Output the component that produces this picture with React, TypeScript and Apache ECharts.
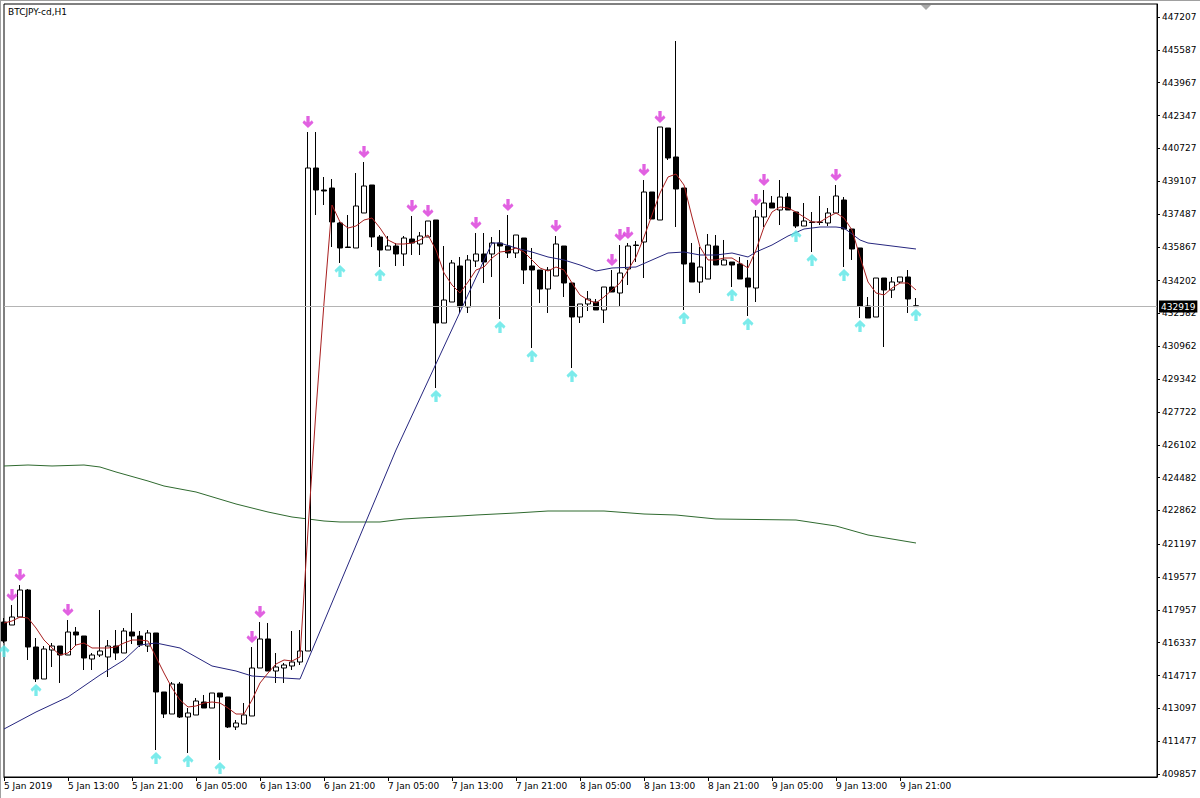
import React, { useEffect, useRef } from 'react';
import * as echarts from 'echarts';

const FONT = 'DejaVu Sans';

// Hourly candles, 5 Jan 2019 05:00 .. 9 Jan 2019 23:00 (bar index 0..114)
const opens = [
  417357, 417208, 417603, 418935, 416123, 414544, 415975, 416172, 415728, 416863,
  416666, 415531, 415728, 415630, 416172, 415827, 416863, 416666, 416172, 416814,
  413903, 412817, 414297, 412669, 412768, 413409, 413113, 413853, 413656, 412176,
  412324, 412719, 415087, 416518, 414939, 415087, 415186, 415383, 415926, 439757,
  438671, 438770, 437043, 435859, 435810, 437537, 438918, 436352, 435711, 435908,
  435514, 436254, 436007, 436352, 437191, 432109, 433145, 434922, 432899, 435168,
  435514, 435514, 436056, 435908, 435563, 436303, 434922, 434724, 433787, 434428,
  435908, 434083, 432405, 433047, 433145, 432751, 433885, 433589, 434774, 435958,
  436106, 438573, 437191, 441730, 440300, 438770, 435070, 434132, 434280, 435908,
  434971, 435119, 435020, 434329, 433836, 437339, 438030, 437685, 438326, 437586,
  436895, 437093, 437093, 437043, 437537, 438178, 436747, 435810, 432948, 432405,
  434329, 433737, 434132, 434379, 432960,
];
const highs = [
  417554, 418195, 419182, 418985, 416567, 416172, 416320, 416172, 417455, 417110,
  416666, 415827, 417949, 416468, 416962, 417060, 417801, 416912, 416962, 416814,
  413903, 414396, 414396, 413113, 413607, 413755, 413853, 413853, 413656, 412521,
  413360, 416123, 417357, 417307, 415827, 415334, 416912, 416962, 441533, 441533,
  439313, 439214, 437093, 437438, 439510, 440053, 438918, 436451, 436402, 436056,
  436402, 437389, 436599, 437142, 437191, 435908, 435218, 435366, 435464, 436550,
  436550, 436352, 436698, 437438, 436451, 436303, 435810, 434724, 434872, 436402,
  435908, 434083, 433047, 433688, 433293, 433885, 434724, 435958, 436056, 436155,
  439165, 438573, 441780, 441730, 446023, 438770, 436056, 435859, 436500, 436451,
  436205, 435119, 435366, 435218, 437685, 438671, 438375, 439165, 438523, 437586,
  438030, 437586, 438375, 437783, 438918, 438326, 436747, 435810, 433392, 434329,
  434329, 434379, 434379, 434724, 433343,
];
const lows = [
  416320, 417208, 417603, 415482, 414396, 414544, 415136, 414347, 415728, 416172,
  414988, 414988, 415630, 414643, 415482, 415827, 416271, 416123, 415876, 411041,
  412620, 412817, 412620, 410893, 412768, 413113, 413113, 410548, 412126, 412028,
  412324, 412719, 415087, 414939, 414347, 414347, 414988, 415235, 415926, 437438,
  437931, 435859, 435070, 435810, 435810, 437537, 435859, 434872, 435711, 434922,
  434922, 435464, 435464, 436352, 428902, 432109, 433145, 432603, 432603, 434872,
  434083, 434379, 432307, 435316, 435316, 434033, 430876, 433096, 432603, 434428,
  433392, 429889, 432109, 432701, 432751, 432109, 433639, 432899, 433984, 435119,
  434329, 437241, 437191, 440152, 436846, 432751, 434132, 433589, 434280, 434971,
  434971, 433885, 434280, 432455, 433145, 436846, 437783, 436944, 437685, 436796,
  436895, 435612, 436944, 436895, 437537, 434872, 435218, 432356, 432356, 432405,
  430925, 433343, 434083, 432603, 432899,
];
const closes = [
  416419, 417603, 418935, 416123, 414544, 416024, 416172, 415728, 416863, 416715,
  415580, 415728, 415926, 416172, 415827, 416912, 416666, 416222, 416814, 413903,
  412817, 414297, 412669, 412867, 413459, 413113, 413853, 413656, 412176, 412373,
  412768, 415087, 416518, 414939, 415136, 415235, 415383, 415926, 439757, 438671,
  438622, 437093, 435810, 435834, 437882, 438869, 436352, 435711, 435908, 435514,
  436303, 436056, 436402, 437142, 432109, 433244, 435070, 432899, 435218, 435514,
  435119, 436056, 435908, 435563, 436451, 434724, 434724, 433787, 434724, 436007,
  434083, 432405, 433047, 433293, 432751, 433885, 433639, 434576, 435908, 435933,
  438573, 437241, 441780, 440250, 438721, 435020, 434132, 434872, 435958, 434971,
  435218, 434971, 434280, 433885, 437339, 438030, 437783, 438326, 437685, 436895,
  437142, 437068, 437068, 437537, 438375, 436747, 435760, 432948, 432356, 434329,
  433737, 434132, 434379, 433293, 432919,
];

// Fast moving average (red), one value per bar
const fastMA = [
  417307, 417406, 417603, 417554, 417060, 416468, 416074, 415728, 415827, 416222,
  416320, 416074, 416074, 416074, 416123, 416320, 416468, 416468, 416419, 415630,
  414840, 414100, 413508, 413163, 413212, 413360, 413409, 413360, 413113, 412817,
  412817, 413508, 414347, 414840, 415284, 415482, 415433, 415630, 421896, 427817,
  433096, 437931, 437093, 436796, 436895, 437191, 437290, 436796, 436205, 436007,
  436007, 436056, 436205, 436451, 435711, 434576, 433984, 433589, 434132, 434724,
  434872, 435316, 435612, 435662, 435810, 435612, 435218, 434823, 434675, 434872,
  434724, 434083, 433491, 433244, 433096, 433392, 433737, 434083, 434724, 435366,
  436352, 437438, 438523, 439313, 439460, 438918, 437339, 435859, 435218, 435218,
  435316, 435316, 435070, 434823, 435711, 436846, 437586, 437833, 437783, 437586,
  437339, 437093, 437093, 437339, 437537, 437290, 436698, 435366, 434132, 433589,
  433491, 433836, 434083, 434083, 433737,
];

// Medium moving average (navy), [bar, value] readings
const midMA = [
  [0, 412077], [4, 412916], [8, 413656], [12, 414741], [15, 415482], [17, 416222],
  [19, 416320], [22, 416074], [26, 415186], [29, 414939], [31, 414692], [37, 414544],
  [49, 425843], [61, 436056], [62, 436056], [64, 435810], [66, 435612], [68, 435366],
  [70, 435218], [72, 434971], [74, 434675], [76, 434823], [79, 434872], [81, 435218],
  [83, 435563], [85, 435612], [87, 435464], [89, 435464], [91, 435563], [93, 435366],
  [94, 435612], [96, 435958], [98, 436402], [100, 436747], [102, 436846], [104, 436846],
  [105, 436796], [107, 436205], [108, 436056], [110, 435958], [112, 435859], [114, 435760],
];

// Slow moving average (green), [bar, value] readings
const slowMA = [
  [0, 425054], [3, 425103], [6, 425054], [10, 425103], [12, 425004], [14, 424758],
  [18, 424313], [20, 424067], [24, 423771], [29, 423179], [33, 422784], [36, 422537],
  [38, 422439], [40, 422340], [42, 422291], [47, 422291], [50, 422439], [52, 422488],
  [57, 422587], [59, 422636], [64, 422735], [68, 422833], [75, 422833], [80, 422685],
  [84, 422636], [89, 422439], [99, 422389], [104, 422093], [108, 421649], [114, 421254],
];

// Signal arrows (bar indices)
const downArrowBars = [1, 2, 8, 31, 32, 38, 45, 51, 53, 59, 63, 69, 76, 77, 78, 80, 82, 94, 95, 104];
const upArrowBars = [0, 4, 19, 23, 27, 42, 47, 54, 62, 66, 71, 85, 91, 93, 99, 101, 105, 107, 114];

// Axis tick labels
const timeTickBars = [0, 8, 16, 24, 32, 40, 48, 56, 64, 72, 80, 88, 96, 104, 112];
const timeLabels = [
  '5 Jan 2019', '5 Jan 13:00', '5 Jan 21:00', '6 Jan 05:00', '6 Jan 13:00',
  '6 Jan 21:00', '7 Jan 05:00', '7 Jan 13:00', '7 Jan 21:00', '8 Jan 05:00',
  '8 Jan 13:00', '8 Jan 21:00', '9 Jan 05:00', '9 Jan 13:00', '9 Jan 21:00',
];
const priceTicks = [
  447207, 445587, 443967, 442347, 440727, 439107, 437487, 435867, 434202, 432582,
  430962, 429342, 427722, 426102, 424482, 422862, 421197, 419577, 417957, 416337,
  414717, 413097, 411477, 409857,
];
const lastPrice = 432919;
const title = 'BTCJPY-cd,H1';

const DOWN_ARROW = 'path://M3.5,0 L6.5,0 L6.5,6 L8.5,4 L10,6.5 L5,11.5 L0,6.5 L1.5,4 L3.5,6 Z';
const UP_ARROW = 'path://M3.5,11.5 L6.5,11.5 L6.5,5.5 L8.5,7.5 L10,5 L5,0 L0,5 L1.5,7.5 L3.5,5.5 Z';

export default function App() {
  const ref = useRef<HTMLDivElement>(null);

  useEffect(() => {
    if (!ref.current) return;
    const chart = echarts.init(ref.current, null, { renderer: 'svg' });
    const candleData = opens.map((o, i) => [i, o, closes[i], lows[i], highs[i]]);

    chart.setOption({
      animation: false,
      backgroundColor: '#ffffff',
      textStyle: { fontFamily: FONT },
      grid: {
        left: 4,
        right: 43,
        top: 4,
        bottom: 21,
        show: true,
        borderColor: '#000',
        borderWidth: 1,
        backgroundColor: 'transparent',
      },
      xAxis: {
        type: 'value',
        min: 0,
        max: 144.125,
        axisLine: { show: true, onZero: false, lineStyle: { color: '#000', width: 1 } },
        axisTick: { show: true, length: 4, customValues: timeTickBars, lineStyle: { color: '#000' } },
        axisLabel: {
          customValues: timeTickBars,
          formatter: (v: number) => timeLabels[Math.round(v / 8)] ?? '',
          align: 'left',
          margin: 4,
          fontSize: 9,
          fontFamily: FONT,
          color: '#000',
          showMinLabel: true,
          showMaxLabel: true,
        },
        splitLine: { show: false },
      },
      yAxis: {
        type: 'value',
        position: 'right',
        min: 409709,
        max: 447849,
        axisLine: { show: true, onZero: false, lineStyle: { color: '#000', width: 1 } },
        axisTick: { show: true, length: 3, customValues: priceTicks, lineStyle: { color: '#000' } },
        axisLabel: {
          customValues: priceTicks,
          formatter: (v: number) => String(v),
          margin: 5,
          fontSize: 9,
          fontFamily: FONT,
          color: '#000',
          showMinLabel: true,
          showMaxLabel: true,
        },
        splitLine: { show: false },
      },
      series: [
        {
          type: 'line',
          data: slowMA,
          showSymbol: false,
          symbol: 'none',
          silent: true,
          lineStyle: { color: '#2f6a2f', width: 1 },
          z: 1,
        },
        {
          type: 'candlestick',
          data: candleData,
          encode: { x: 0, y: [1, 2, 3, 4] },
          barWidth: 5,
          silent: true,
          itemStyle: {
            color: '#ffffff',
            color0: '#000000',
            borderColor: '#000000',
            borderColor0: '#000000',
            borderColorDoji: '#000000',
            borderWidth: 1,
          },
          markLine: {
            silent: true,
            symbol: ['none', 'none'],
            lineStyle: { color: '#b4b4b4', width: 1, type: 'solid' },
            label: {
              show: true,
              position: 'end',
              formatter: String(lastPrice),
              color: '#fff',
              backgroundColor: '#000',
              padding: [2, 2, 1, 2],
              fontSize: 9,
              fontFamily: FONT,
              distance: 2,
            },
            data: [{ yAxis: lastPrice }],
          },
          z: 2,
        },
        {
          type: 'line',
          data: midMA,
          showSymbol: false,
          symbol: 'none',
          silent: true,
          lineStyle: { color: '#26267f', width: 1 },
          z: 3,
        },
        {
          type: 'line',
          data: fastMA.map((v, i) => [i, v]),
          showSymbol: false,
          symbol: 'none',
          silent: true,
          lineStyle: { color: '#a81f1f', width: 1 },
          z: 4,
        },
        {
          type: 'scatter',
          data: downArrowBars.map((i) => [i, highs[i]]),
          symbol: DOWN_ARROW,
          symbolSize: [11, 12],
          symbolOffset: [0, -10],
          silent: true,
          itemStyle: { color: '#d93ad9' },
          z: 5,
        },
        {
          type: 'scatter',
          data: upArrowBars.map((i) => [i, lows[i]]),
          symbol: UP_ARROW,
          symbolSize: [11, 12],
          symbolOffset: [0, 8],
          silent: true,
          itemStyle: { color: '#5ae6e6' },
          z: 5,
        },
      ],
      graphic: [
        {
          type: 'line',
          shape: { x1: 0.5, y1: 0, x2: 0.5, y2: 798 },
          style: { stroke: '#a0a0a0', lineWidth: 1 },
          silent: true,
        },
        {
          type: 'line',
          shape: { x1: 0, y1: 0.5, x2: 1200, y2: 0.5 },
          style: { stroke: '#a0a0a0', lineWidth: 1 },
          silent: true,
        },
        {
          type: 'polygon',
          shape: { points: [[921, 5], [931, 5], [926, 10]] },
          style: { fill: '#a8a8a8' },
          silent: true,
        },
        {
          type: 'text',
          left: 8,
          top: 7,
          style: { text: title, fontSize: 9, fontFamily: FONT, fill: '#000' },
          silent: true,
        },
      ],
    });

    return () => chart.dispose();
  }, []);

  return (
    <div
      ref={ref}
      style={{ position: 'fixed', left: 0, top: 0, width: 1200, height: 798, background: '#fff' }}
    />
  );
}
